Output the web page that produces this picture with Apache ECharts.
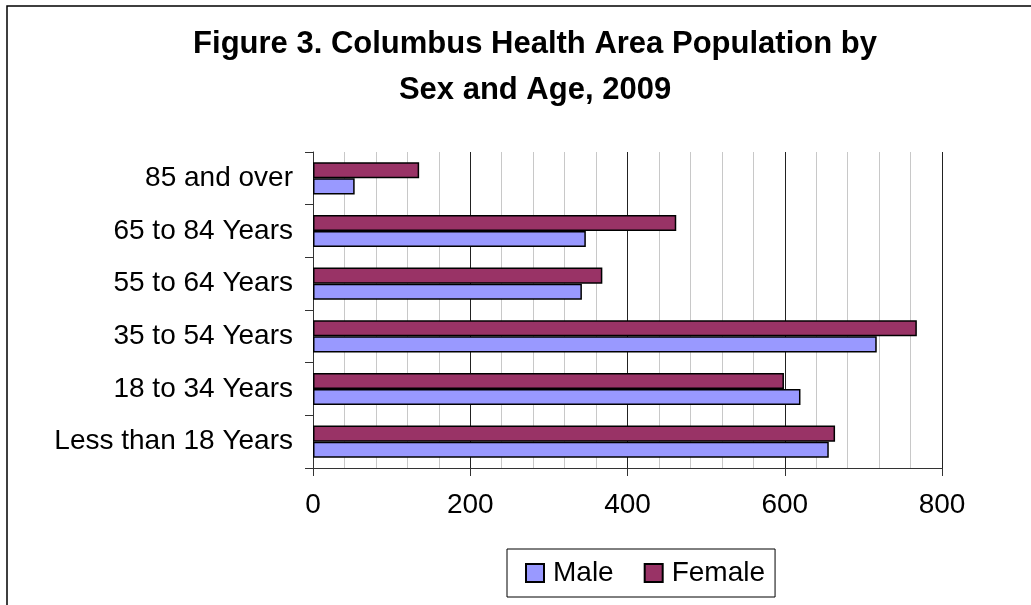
<!DOCTYPE html>
<html>
<head>
<meta charset="utf-8">
<script src="https://cdn.jsdelivr.net/npm/echarts@6/dist/echarts.min.js"></script>
<style>
html,body{margin:0;padding:0;background:#fff;}
#chart{width:1031px;height:605px;}
</style>
</head>
<body>
<div id="chart"></div>
<script>
// Data
const categories = ['Less than 18 Years', '18 to 34 Years', '35 to 54 Years', '55 to 64 Years', '65 to 84 Years', '85 and over'];
const maleValues = [656, 620, 717, 342, 347, 53];
const femaleValues = [664, 599, 768, 368, 462, 135];
const xTicks = [0, 200, 400, 600, 800];
const titleText = 'Figure 3. Columbus Health Area Population by\nSex and Age, 2009';

const FONT = '"Liberation Sans", Arial, sans-serif';
const chart = echarts.init(document.getElementById('chart'), null, {renderer: 'canvas'});

chart.setOption({
  backgroundColor: '#fff',
  animation: false,
  title: {
    text: titleText,
    left: 535,
    top: 21,
    textAlign: 'center',
    padding: 0,
    textStyle: {fontFamily: FONT, fontWeight: 'bold', fontSize: 31, lineHeight: 46, color: '#000'}
  },
  graphic: [{
    type: 'rect',
    shape: {x: 7, y: 6, width: 1100, height: 700},
    style: {fill: 'none', stroke: '#000', lineWidth: 1.5},
    silent: true,
    z: 100
  }],
  legend: {
    data: ['Male', 'Female'],
    left: 507,
    top: 549,
    orient: 'horizontal',
    padding: [10, 10, 10, 18],
    itemGap: 30,
    itemWidth: 18,
    itemHeight: 18,
    icon: 'rect',
    borderColor: '#000',
    borderWidth: 1,
    textStyle: {fontFamily: FONT, fontSize: 28, color: '#000', padding: [0, 0, 0, 4]}
  },
  grid: {left: 313, top: 152, right: 89, bottom: 137, containLabel: false},
  xAxis: {
    type: 'value',
    min: xTicks[0],
    max: xTicks[xTicks.length - 1],
    interval: 200,
    axisLine: {show: true, lineStyle: {color: '#333', width: 1}},
    axisTick: {show: true, inside: false, length: 8, lineStyle: {color: '#333'}},
    axisLabel: {fontFamily: FONT, fontSize: 28, color: '#000', margin: 23,
      formatter: v => xTicks.indexOf(v) >= 0 ? String(v) : ''},
    splitLine: {show: true, lineStyle: {color: '#222', width: 1}},
    minorTick: {show: false, splitNumber: 5},
    minorSplitLine: {show: true, lineStyle: {color: '#c8c8c8', width: 1}}
  },
  yAxis: {
    type: 'category',
    data: categories,
    axisLine: {show: true, lineStyle: {color: '#333', width: 1}},
    axisTick: {show: true, inside: false, length: 8, lineStyle: {color: '#333'}},
    axisLabel: {fontFamily: FONT, fontSize: 28, color: '#000', margin: 20},
    splitLine: {show: false}
  },
  series: [
    {
      name: 'Female', type: 'bar', data: femaleValues,
      barGap: '0%', barCategoryGap: '39%',
      itemStyle: {color: '#993366', borderColor: '#000', borderWidth: 1.5}
    },
    {
      name: 'Male', type: 'bar', data: maleValues,
      barGap: '0%', barCategoryGap: '39%',
      itemStyle: {color: '#9999FF', borderColor: '#000', borderWidth: 1.5}
    }
  ]
});
</script>
</body>
</html>
